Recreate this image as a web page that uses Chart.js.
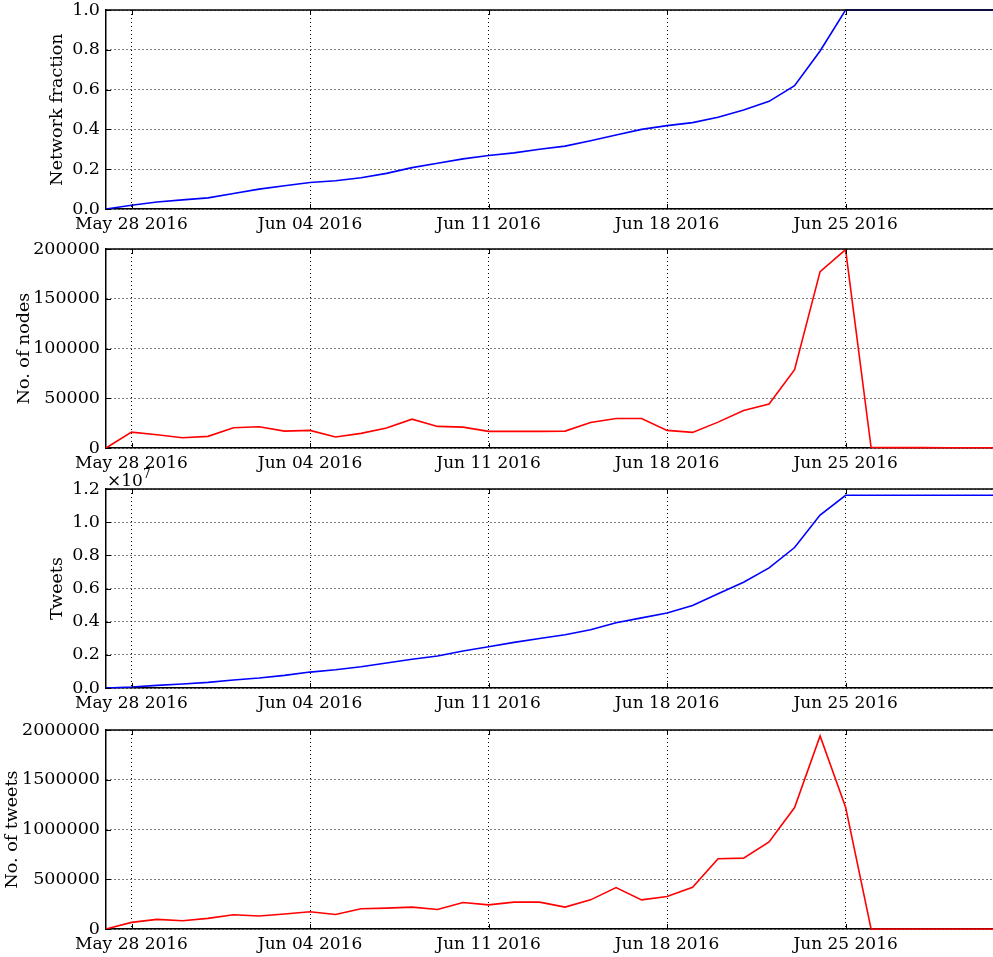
<!DOCTYPE html>
<html>
<head>
<meta charset="utf-8">
<title>Network growth, May - Jun 2016</title>
<script src="https://cdn.jsdelivr.net/npm/chart.js@4.4.0/dist/chart.umd.min.js"></script>
<style>
  html, body { margin: 0; padding: 0; background: #fff; overflow: hidden; }
  #wrap { position: relative; width: 993px; height: 957px; }
  canvas { position: absolute; left: 0; }
</style>
</head>
<body>
<div id="wrap">
  <canvas id="fracChart" width="993" height="252" style="top:-15px"></canvas>
  <canvas id="nodesChart" width="993" height="252" style="top:224px"></canvas>
  <canvas id="tweetsChart" width="993" height="252" style="top:464px"></canvas>
  <canvas id="dailyChart" width="993" height="252" style="top:705px"></canvas>
</div>
<script>
// data, one value per day

const dates = [
  '2016-05-27', '2016-05-28', '2016-05-29', '2016-05-30', '2016-05-31',
  '2016-06-01', '2016-06-02', '2016-06-03', '2016-06-04', '2016-06-05',
  '2016-06-06', '2016-06-07', '2016-06-08', '2016-06-09', '2016-06-10',
  '2016-06-11', '2016-06-12', '2016-06-13', '2016-06-14', '2016-06-15',
  '2016-06-16', '2016-06-17', '2016-06-18', '2016-06-19', '2016-06-20',
  '2016-06-21', '2016-06-22', '2016-06-23', '2016-06-24', '2016-06-25',
  '2016-06-26', '2016-06-27', '2016-06-28', '2016-06-29', '2016-06-30',
  '2016-07-01'
];

const networkFraction = [
  0, 0.019, 0.035, 0.046, 0.056, 0.078, 0.100, 0.117, 0.133, 0.142,
  0.157, 0.179, 0.208, 0.230, 0.252, 0.269, 0.282, 0.300, 0.316, 0.343,
  0.372, 0.400, 0.419, 0.434, 0.461, 0.498, 0.541, 0.620, 0.794, 1.0,
  1.0, 1.0, 1.0, 1.0, 1.0, 1.0
];

const nodes = [
  0, 16000, 13300, 10300, 11700, 20300, 21300, 17000, 17700, 11000,
  14700, 20000, 29000, 21700, 21000, 16700, 16700, 16700, 17000, 25700,
  29700, 29700, 17700, 15700, 26000, 37700, 44300, 78700, 177300, 199300,
  500, 400, 400, 300, 300, 300
];

const tweets = [
  0, 60000, 160000, 240000, 340000, 480000, 600000, 760000, 960000, 1100000,
  1280000, 1510000, 1730000, 1930000, 2230000, 2490000, 2750000, 2990000, 3210000, 3510000,
  3930000, 4230000, 4520000, 4980000, 5680000, 6380000, 7240000, 8470000, 10430000, 11620000,
  11620000, 11620000, 11620000, 11620000, 11620000, 11620000
];

const dailyTweets = [
  0, 66500, 96500, 83000, 106500, 143000, 130000, 150000, 173000, 146000,
  203000, 210000, 220000, 196000, 266000, 243000, 270000, 270000, 220000, 293000,
  416000, 293000, 326000, 419000, 706000, 712000, 875000, 1221000, 1940000, 1225000,
  0, 0, 0, 0, 0, 0
];

const tickDates = ['2016-05-28', '2016-06-04', '2016-06-11', '2016-06-18', '2016-06-25'];
const tickLabels = ['May 28 2016', 'Jun 04 2016', 'Jun 11 2016', 'Jun 18 2016', 'Jun 25 2016'];

// x axis is "days since the first date"
const DAY = 86400000;
const t0 = Date.parse(dates[0]);
function dayOf(d) { return (Date.parse(d) - t0) / DAY; }
const tickDays = tickDates.map(dayOf);

Chart.defaults.font.family = "'DejaVu Serif', 'Liberation Serif', serif";
Chart.defaults.font.size = 17;
Chart.defaults.color = '#000';

// top spine + little inward ticks (matplotlib classic look)
const framePlugin = {
  id: 'frame',
  afterDraw(chart) {
    const { ctx, chartArea: a, scales } = chart;
    ctx.save();
    ctx.strokeStyle = '#000';
    ctx.lineWidth = 1.5;
    ctx.beginPath();
    ctx.moveTo(a.left, a.top);
    ctx.lineTo(a.right, a.top);
    ctx.stroke();

    ctx.lineWidth = 1;
    ctx.beginPath();
    scales.x.ticks.forEach(t => {
      const px = Math.round(scales.x.getPixelForValue(t.value)) + 0.5;
      ctx.moveTo(px, a.bottom); ctx.lineTo(px, a.bottom - 5);
      ctx.moveTo(px, a.top); ctx.lineTo(px, a.top + 5);
    });
    scales.y.ticks.forEach(t => {
      const py = Math.round(scales.y.getPixelForValue(t.value)) + 0.5;
      ctx.moveTo(a.left, py); ctx.lineTo(a.left + 5, py);
    });
    ctx.stroke();

    // offset text, e.g. x10^7
    const exp = chart.options.plugins.frame && chart.options.plugins.frame.exponent;
    if (exp) {
      ctx.fillStyle = '#000';
      ctx.textBaseline = 'alphabetic';
      ctx.font = "17px 'DejaVu Serif', serif";
      ctx.fillText('\u00d710', a.left + 1, a.top - 3);
      const w = ctx.measureText('\u00d710').width;
      ctx.font = "12px 'DejaVu Serif', serif";
      ctx.fillText(exp, a.left + 1 + w, a.top - 11);
    }
    ctx.restore();
  }
};

function makePanel(id, values, color, yTitle, titleOffset, yMax, yStep, fmt, exponent) {
  const points = values.map((v, i) => ({ x: dayOf(dates[i]), y: v }));
  return new Chart(document.getElementById(id), {
    type: 'line',
    data: {
      datasets: [{
        data: points,
        borderColor: color,
        borderWidth: 1.6,
        pointRadius: 0,
        tension: 0,
        clip: 3
      }]
    },
    options: {
      responsive: false,
      animation: false,
      layout: { padding: { top: 25, right: 0, bottom: 0, left: 0 } },
      plugins: {
        legend: { display: false },
        tooltip: { enabled: false },
        frame: { exponent: exponent }
      },
      scales: {
        x: {
          type: 'linear',
          min: 0,
          max: 34.78,
          afterBuildTicks: function(scale) {
            scale.ticks = tickDays.map(v => ({ value: v }));
          },
          afterFit: function(scale) { scale.height = 28; },
          ticks: {
            autoSkip: false,
            maxRotation: 0,
            padding: 5,
            callback: function(value) {
              const i = tickDays.indexOf(value);
              return i >= 0 ? tickLabels[i] : '';
            }
          },
          grid: { color: '#000', lineWidth: 1, drawTicks: false },
          border: { display: true, color: '#000', width: 1.5, dash: [1, 3] }
        },
        y: {
          min: 0,
          max: yMax,
          afterFit: function(scale) { scale.width = 106; },
          ticks: {
            stepSize: yStep,
            padding: 6,
            font: { size: 17.5 },
            callback: fmt
          },
          title: {
            display: true,
            text: yTitle,
            font: { size: 17.5 },
            padding: { top: titleOffset, bottom: 0 }
          },
          grid: { color: '#000', lineWidth: 1, drawTicks: false },
          border: { display: true, color: '#000', width: 1.5, dash: [1, 3] }
        }
      }
    },
    plugins: [framePlugin]
  });
}

makePanel('fracChart', networkFraction, '#0000ff', 'Network fraction', 47, 1.0, 0.2,
  v => v.toFixed(1));
makePanel('nodesChart', nodes, '#ff0000', 'No. of nodes', 14, 200000, 50000,
  v => String(v));
makePanel('tweetsChart', tweets, '#0000ff', 'Tweets', 47, 12000000, 2000000,
  v => (v / 1e7).toFixed(1), '7');
makePanel('dailyChart', dailyTweets, '#ff0000', 'No. of tweets', 2, 2000000, 500000,
  v => String(v));
</script>
</body>
</html>
